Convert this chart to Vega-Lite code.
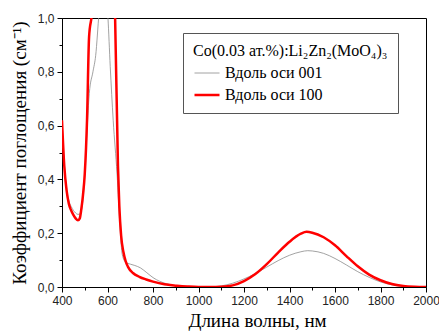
{
  "$schema": "https://vega.github.io/schema/vega-lite/v6.json",
  "width": 364,
  "height": 269,
  "autosize": {"type": "none"},
  "padding": {"left": 62, "top": 18, "right": 13, "bottom": 46},
  "background": "white",
  "config": {
    "view": {"stroke": "black", "strokeWidth": 1},
    "axis": {
      "domainColor": "black",
      "tickColor": "black",
      "labelFont": "Liberation Sans",
      "labelFontSize": 12,
      "labelColor": "#222",
      "grid": false
    }
  },
  "data": {
    "values": [
      {"wl": 400, "k": 0.62, "s": "Вдоль оси 001"},
      {"wl": 410, "k": 0.46, "s": "Вдоль оси 001"},
      {"wl": 420, "k": 0.37, "s": "Вдоль оси 001"},
      {"wl": 430, "k": 0.32, "s": "Вдоль оси 001"},
      {"wl": 440, "k": 0.3, "s": "Вдоль оси 001"},
      {"wl": 450, "k": 0.285, "s": "Вдоль оси 001"},
      {"wl": 460, "k": 0.275, "s": "Вдоль оси 001"},
      {"wl": 470, "k": 0.27, "s": "Вдоль оси 001"},
      {"wl": 480, "k": 0.272, "s": "Вдоль оси 001"},
      {"wl": 490, "k": 0.31, "s": "Вдоль оси 001"},
      {"wl": 500, "k": 0.41, "s": "Вдоль оси 001"},
      {"wl": 510, "k": 0.58, "s": "Вдоль оси 001"},
      {"wl": 520, "k": 0.72, "s": "Вдоль оси 001"},
      {"wl": 536, "k": 0.8, "s": "Вдоль оси 001"},
      {"wl": 548, "k": 0.86, "s": "Вдоль оси 001"},
      {"wl": 563, "k": 1.02, "s": "Вдоль оси 001"},
      {"wl": 580, "k": 1.15, "s": "Вдоль оси 001"},
      {"wl": 595, "k": 1.08, "s": "Вдоль оси 001"},
      {"wl": 602, "k": 1.0, "s": "Вдоль оси 001"},
      {"wl": 612, "k": 0.82, "s": "Вдоль оси 001"},
      {"wl": 625, "k": 0.62, "s": "Вдоль оси 001"},
      {"wl": 642, "k": 0.42, "s": "Вдоль оси 001"},
      {"wl": 655, "k": 0.22, "s": "Вдоль оси 001"},
      {"wl": 665, "k": 0.12, "s": "Вдоль оси 001"},
      {"wl": 680, "k": 0.092, "s": "Вдоль оси 001"},
      {"wl": 700, "k": 0.085, "s": "Вдоль оси 001"},
      {"wl": 720, "k": 0.08, "s": "Вдоль оси 001"},
      {"wl": 745, "k": 0.071, "s": "Вдоль оси 001"},
      {"wl": 773, "k": 0.053, "s": "Вдоль оси 001"},
      {"wl": 800, "k": 0.035, "s": "Вдоль оси 001"},
      {"wl": 830, "k": 0.021, "s": "Вдоль оси 001"},
      {"wl": 860, "k": 0.012, "s": "Вдоль оси 001"},
      {"wl": 905, "k": 0.004, "s": "Вдоль оси 001"},
      {"wl": 950, "k": 0.001, "s": "Вдоль оси 001"},
      {"wl": 1000, "k": 0, "s": "Вдоль оси 001"},
      {"wl": 1050, "k": 0, "s": "Вдоль оси 001"},
      {"wl": 1100, "k": 0.004, "s": "Вдоль оси 001"},
      {"wl": 1150, "k": 0.014, "s": "Вдоль оси 001"},
      {"wl": 1200, "k": 0.03, "s": "Вдоль оси 001"},
      {"wl": 1250, "k": 0.05, "s": "Вдоль оси 001"},
      {"wl": 1300, "k": 0.074, "s": "Вдоль оси 001"},
      {"wl": 1350, "k": 0.098, "s": "Вдоль оси 001"},
      {"wl": 1400, "k": 0.118, "s": "Вдоль оси 001"},
      {"wl": 1450, "k": 0.131, "s": "Вдоль оси 001"},
      {"wl": 1480, "k": 0.135, "s": "Вдоль оси 001"},
      {"wl": 1500, "k": 0.134, "s": "Вдоль оси 001"},
      {"wl": 1550, "k": 0.125, "s": "Вдоль оси 001"},
      {"wl": 1600, "k": 0.106, "s": "Вдоль оси 001"},
      {"wl": 1650, "k": 0.082, "s": "Вдоль оси 001"},
      {"wl": 1700, "k": 0.057, "s": "Вдоль оси 001"},
      {"wl": 1750, "k": 0.036, "s": "Вдоль оси 001"},
      {"wl": 1800, "k": 0.019, "s": "Вдоль оси 001"},
      {"wl": 1850, "k": 0.008, "s": "Вдоль оси 001"},
      {"wl": 1900, "k": 0.002, "s": "Вдоль оси 001"},
      {"wl": 1950, "k": 0, "s": "Вдоль оси 001"},
      {"wl": 2000, "k": 0, "s": "Вдоль оси 001"},
      {"wl": 400, "k": 0.62, "s": "Вдоль оси 100"},
      {"wl": 410, "k": 0.45, "s": "Вдоль оси 100"},
      {"wl": 420, "k": 0.36, "s": "Вдоль оси 100"},
      {"wl": 430, "k": 0.31, "s": "Вдоль оси 100"},
      {"wl": 440, "k": 0.285, "s": "Вдоль оси 100"},
      {"wl": 450, "k": 0.268, "s": "Вдоль оси 100"},
      {"wl": 460, "k": 0.255, "s": "Вдоль оси 100"},
      {"wl": 470, "k": 0.248, "s": "Вдоль оси 100"},
      {"wl": 478, "k": 0.255, "s": "Вдоль оси 100"},
      {"wl": 485, "k": 0.29, "s": "Вдоль оси 100"},
      {"wl": 492, "k": 0.34, "s": "Вдоль оси 100"},
      {"wl": 500, "k": 0.42, "s": "Вдоль оси 100"},
      {"wl": 510, "k": 0.62, "s": "Вдоль оси 100"},
      {"wl": 519, "k": 0.93, "s": "Вдоль оси 100"},
      {"wl": 532, "k": 1.02, "s": "Вдоль оси 100"},
      {"wl": 550, "k": 1.3, "s": "Вдоль оси 100"},
      {"wl": 580, "k": 1.6, "s": "Вдоль оси 100"},
      {"wl": 610, "k": 1.4, "s": "Вдоль оси 100"},
      {"wl": 633, "k": 1.02, "s": "Вдоль оси 100"},
      {"wl": 646, "k": 0.45, "s": "Вдоль оси 100"},
      {"wl": 652, "k": 0.3, "s": "Вдоль оси 100"},
      {"wl": 660, "k": 0.19, "s": "Вдоль оси 100"},
      {"wl": 670, "k": 0.13, "s": "Вдоль оси 100"},
      {"wl": 680, "k": 0.095, "s": "Вдоль оси 100"},
      {"wl": 690, "k": 0.075, "s": "Вдоль оси 100"},
      {"wl": 712, "k": 0.052, "s": "Вдоль оси 100"},
      {"wl": 740, "k": 0.038, "s": "Вдоль оси 100"},
      {"wl": 770, "k": 0.028, "s": "Вдоль оси 100"},
      {"wl": 800, "k": 0.02, "s": "Вдоль оси 100"},
      {"wl": 850, "k": 0.01, "s": "Вдоль оси 100"},
      {"wl": 905, "k": 0.005, "s": "Вдоль оси 100"},
      {"wl": 950, "k": 0.002, "s": "Вдоль оси 100"},
      {"wl": 1000, "k": 0, "s": "Вдоль оси 100"},
      {"wl": 1050, "k": 0, "s": "Вдоль оси 100"},
      {"wl": 1100, "k": 0.001, "s": "Вдоль оси 100"},
      {"wl": 1150, "k": 0.006, "s": "Вдоль оси 100"},
      {"wl": 1200, "k": 0.022, "s": "Вдоль оси 100"},
      {"wl": 1250, "k": 0.048, "s": "Вдоль оси 100"},
      {"wl": 1300, "k": 0.085, "s": "Вдоль оси 100"},
      {"wl": 1350, "k": 0.128, "s": "Вдоль оси 100"},
      {"wl": 1400, "k": 0.168, "s": "Вдоль оси 100"},
      {"wl": 1450, "k": 0.198, "s": "Вдоль оси 100"},
      {"wl": 1475, "k": 0.205, "s": "Вдоль оси 100"},
      {"wl": 1500, "k": 0.202, "s": "Вдоль оси 100"},
      {"wl": 1550, "k": 0.185, "s": "Вдоль оси 100"},
      {"wl": 1600, "k": 0.155, "s": "Вдоль оси 100"},
      {"wl": 1650, "k": 0.115, "s": "Вдоль оси 100"},
      {"wl": 1700, "k": 0.077, "s": "Вдоль оси 100"},
      {"wl": 1750, "k": 0.046, "s": "Вдоль оси 100"},
      {"wl": 1800, "k": 0.025, "s": "Вдоль оси 100"},
      {"wl": 1850, "k": 0.011, "s": "Вдоль оси 100"},
      {"wl": 1900, "k": 0.004, "s": "Вдоль оси 100"},
      {"wl": 1950, "k": 0.001, "s": "Вдоль оси 100"},
      {"wl": 2000, "k": 0, "s": "Вдоль оси 100"}
    ]
  },
  "mark": {"type": "line", "clip": true, "interpolate": "monotone"},
  "encoding": {
    "x": {
      "field": "wl",
      "type": "quantitative",
      "scale": {"domain": [400, 2000], "nice": false, "zero": false},
      "axis": {
        "title": "Длина волны, нм",
        "titleFont": "Liberation Serif, serif",
        "titleFontSize": 19,
        "titleFontWeight": "normal",
        "titleColor": "black",
        "titleX": 195,
        "values": [400, 500, 600, 700, 800, 900, 1000, 1100, 1200, 1300, 1400, 1500, 1600, 1700, 1800, 1900, 2000],
        "labelExpr": "datum.value % 200 === 0 ? datum.value : ''",
        "tickSize": {"condition": {"test": "datum.value % 200 === 0", "value": 5}, "value": 3},
        "labelPadding": 3,
        "titlePadding": 5,
        "labelFlush": false,
        "labelOverlap": false
      }
    },
    "y": {
      "field": "k",
      "type": "quantitative",
      "scale": {"domain": [0, 1], "nice": false},
      "axis": {
        "title": "Коэффициент поглощения (см⁻¹)",
        "titleFont": "Liberation Serif, serif",
        "titleFontSize": 19,
        "titleFontWeight": "normal",
        "titleColor": "black",
        "values": [0, 0.1, 0.2, 0.3, 0.4, 0.5, 0.6, 0.7, 0.8, 0.9, 1.0],
        "labelExpr": "(round(datum.value * 10) % 2 === 0) ? replace(format(datum.value, '.1f'), '.', ',') : ''",
        "tickSize": {"condition": {"test": "round(datum.value * 10) % 2 === 0", "value": 5}, "value": 3},
        "labelPadding": 3,
        "titlePadding": 8,
        "labelFlush": false,
        "labelOverlap": false
      }
    },
    "color": {
      "field": "s",
      "type": "nominal",
      "scale": {"domain": ["Вдоль оси 001", "Вдоль оси 100"], "range": ["#8a8a8a", "#ff0000"]},
      "legend": {
        "title": "Co(0.03 ат.%):Li₂Zn₂(MoO₄)₃",
        "orient": "none",
        "legendX": 121,
        "legendY": 15,
        "strokeColor": "#555",
        "padding": 10,
        "titleFont": "Liberation Serif, serif",
        "titleFontSize": 16,
        "titleFontWeight": "normal",
        "titleColor": "black",
        "titleLimit": 400,
        "titlePadding": 1,
        "labelFont": "Liberation Serif, serif",
        "labelFontSize": 16,
        "labelColor": "black",
        "symbolType": "stroke",
        "symbolSize": 625,
        "rowPadding": -6,
        "labelOffset": 4
      }
    },
    "strokeWidth": {
      "field": "s",
      "type": "nominal",
      "scale": {"domain": ["Вдоль оси 001", "Вдоль оси 100"], "range": [0.8, 2.5]},
      "legend": {
        "title": "Co(0.03 ат.%):Li₂Zn₂(MoO₄)₃"
      }
    }
  }
}
